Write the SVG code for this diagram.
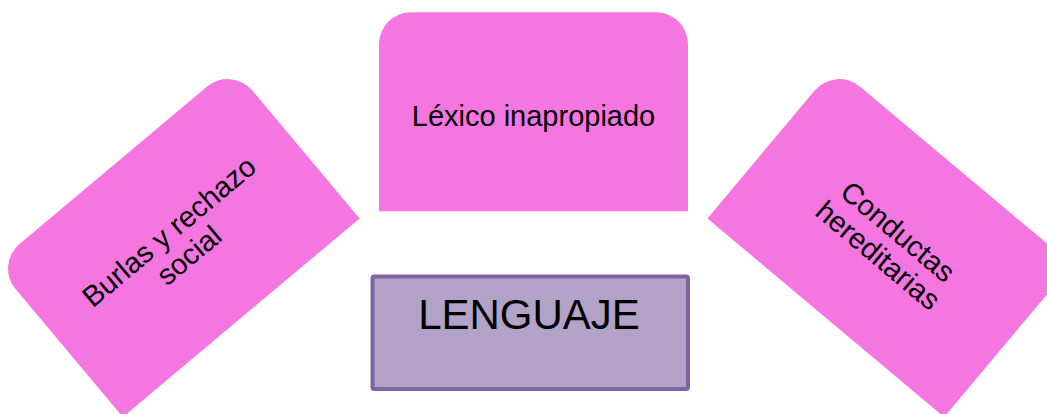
<svg xmlns="http://www.w3.org/2000/svg" width="1047" height="414" viewBox="0 0 1047 414">
  <defs>
    <style>
      .pink { fill: #F576E1; }
      .lbl { font-family: "Liberation Sans", Arial, sans-serif; font-size: 29px; fill: #000; text-anchor: middle; }
      .main { fill: #B3A2C7; stroke: #8064A2; stroke-width: 4; }
      .mainlbl { font-family: "Liberation Sans", Arial, sans-serif; font-size: 42px; fill: #000; text-anchor: middle; }
    </style>
    <path id="tab" d="M-154.5,99.5 V-67.5 A32,32 0 0 1 -122.5,-99.5 H122.5 A32,32 0 0 1 154.5,-67.5 V99.5 Z"/>
  </defs>
  <rect width="1047" height="414" fill="#FFFFFF"/>
  <g id="connectors"></g>
  <g id="node-burlas" transform="translate(177.3,241.5) rotate(-40)">
    <use href="#tab" class="pink"/>
    <text class="lbl" x="0" y="-3">Burlas y rechazo</text>
    <text class="lbl" x="0" y="28">social</text>
  </g>
  <g id="node-lexico" transform="translate(533.5,111.75)">
    <use href="#tab" class="pink"/>
    <text class="lbl" x="0" y="14.5">Léxico inapropiado</text>
  </g>
  <g id="node-conductas" transform="translate(889.7,241.5) rotate(40)">
    <use href="#tab" class="pink"/>
    <text class="lbl" x="0" y="-3">Conductas</text>
    <text class="lbl" x="0" y="28">hereditarias</text>
  </g>
  <g id="node-lenguaje">
    <rect class="main" x="372.5" y="276.5" width="315.5" height="112.5" rx="2"/>
    <text class="mainlbl" x="529" y="328.5">LENGUAJE</text>
  </g>
</svg>
